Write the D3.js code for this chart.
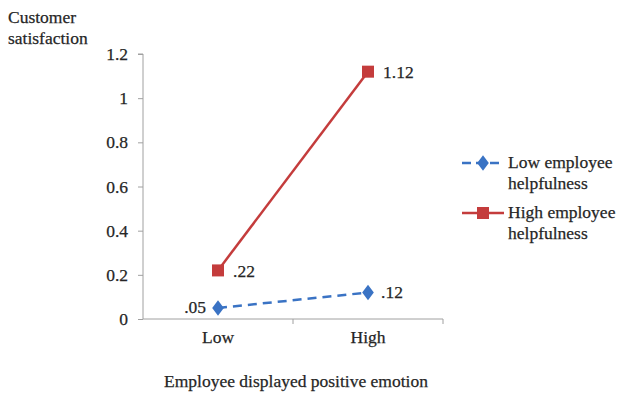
<!DOCTYPE html>
<html>
<head>
<meta charset="utf-8">
<script src="https://cdn.jsdelivr.net/npm/d3@7"></script>
<style>
body{margin:0;background:#fff;}
text{font-family:"Liberation Serif","Times New Roman",serif;fill:#262626;stroke:#262626;stroke-width:0.25px;}
</style>
</head>
<body>
<svg id="chart" width="619" height="394"></svg>
<script>
const categories = ["Low", "High"];
const lowHelpValues = [0.05, 0.12];
const highHelpValues = [0.22, 1.12];
const lowHelpLabels = [".05", ".12"];
const highHelpLabels = [".22", "1.12"];
const yTicks = [0, 0.2, 0.4, 0.6, 0.8, 1, 1.2];
const yTickLabels = ["0", "0.2", "0.4", "0.6", "0.8", "1", "1.2"];
const seriesNames = ["Low employee helpfulness", "High employee helpfulness"];

const FS = "17.5px";
const svg = d3.select("#chart");
const x = d3.scaleBand().domain(categories).range([143, 443]);
const y = d3.scaleLinear().domain([0, 1.2]).range([319, 54]);
const axisColor = "#a0a0a0";

// y axis
const yAxis = svg.append("g").attr("transform", "translate(143,0)")
  .call(d3.axisLeft(y).tickValues(yTicks).tickFormat((d,i)=>yTickLabels[i]).tickSize(5).tickPadding(10));
yAxis.select(".domain").attr("stroke", axisColor).attr("d", `M-5,${y(1.2)}H0V${y(0)}`);
yAxis.selectAll(".tick line").attr("stroke", axisColor);
yAxis.selectAll(".tick text").style("font-size",FS).style("font-family","Liberation Serif");

// x axis
const xAxis = svg.append("g").attr("transform", "translate(0,319)")
  .call(d3.axisBottom(x).tickSize(0).tickPadding(12));
xAxis.select(".domain").attr("stroke", axisColor).attr("d", `M143,0H443V5`);
xAxis.selectAll(".tick text").style("font-size",FS).style("font-family","Liberation Serif");
// band boundary ticks
svg.append("g").selectAll("line").data(categories.slice(1)).join("line")
  .attr("x1", d=>x(d)).attr("x2", d=>x(d)).attr("y1", 319).attr("y2", 324).attr("stroke", axisColor);

const cx = d => x(d) + x.bandwidth()/2;
const line = d3.line().x((d,i)=>cx(categories[i])).y(d=>y(d));

const blue = "#3a73c4", red = "#c43c3c";

// lines
svg.append("path").datum(lowHelpValues).attr("d", line).attr("fill","none")
  .attr("stroke", blue).attr("stroke-width", 2.5).attr("stroke-dasharray","9,6");
svg.append("path").datum(highHelpValues).attr("d", line).attr("fill","none")
  .attr("stroke", red).attr("stroke-width", 2.5);

const diamond = d3.symbol().type(d3.symbolDiamond).size(70);
svg.append("g").selectAll("path").data(lowHelpValues).join("path")
  .attr("d", diamond).attr("fill", blue)
  .attr("transform",(d,i)=>`translate(${cx(categories[i])},${y(d)}) scale(1.3,1)`);
svg.append("g").selectAll("rect").data(highHelpValues).join("rect")
  .attr("x",(d,i)=>cx(categories[i])-6).attr("y",d=>y(d)-6)
  .attr("width",12).attr("height",12).attr("fill", red);

// value labels
svg.append("g").selectAll("text").data(lowHelpValues).join("text")
  .attr("x",(d,i)=> i===0 ? cx(categories[i])-12 : cx(categories[i])+13)
  .attr("y",d=>y(d)+5)
  .attr("text-anchor",(d,i)=> i===0 ? "end":"start")
  .style("font-size",FS).text((d,i)=>lowHelpLabels[i]);
svg.append("g").selectAll("text").data(highHelpValues).join("text")
  .attr("x",(d,i)=> cx(categories[i])+15)
  .attr("y",(d,i)=> i===0 ? y(d)+7 : y(d)+6)
  .attr("text-anchor","start")
  .style("font-size",FS).text((d,i)=>highHelpLabels[i]);

// y title
const yt = svg.append("text").attr("x",8).attr("y",23).style("font-size",FS);
yt.append("tspan").attr("x",8).attr("dy",0).text("Customer");
yt.append("tspan").attr("x",8).attr("dy",21).text("satisfaction");

// x title
svg.append("text").attr("x",296).attr("y",387).attr("text-anchor","middle")
  .style("font-size",FS).text("Employee displayed positive emotion");

// legend
const legend = [
  {color:blue, dash:"9,5", type:"diamond", y:163},
  {color:red, dash:null, type:"square", y:213}
];
legend.forEach((l, i) => {
  const g = svg.append("g");
  g.append("line").attr("x1",462).attr("x2",504).attr("y1",l.y).attr("y2",l.y)
    .attr("stroke",l.color).attr("stroke-width",2.5).attr("stroke-dasharray",l.dash);
  if (l.type==="diamond") {
    g.append("path").attr("d",diamond).attr("fill",l.color)
      .attr("transform",`translate(483,${l.y}) scale(1.3,1)`);
  } else {
    g.append("rect").attr("x",477).attr("y",l.y-6).attr("width",12).attr("height",12).attr("fill",l.color);
  }
  const t = g.append("text").attr("x",508).attr("y",l.y+5).style("font-size",FS);
  t.append("tspan").attr("x",508).attr("dy",0).text(seriesNames[i].replace(" helpfulness",""));
  t.append("tspan").attr("x",508).attr("dy",21).text("helpfulness");
});
</script>
</body>
</html>
